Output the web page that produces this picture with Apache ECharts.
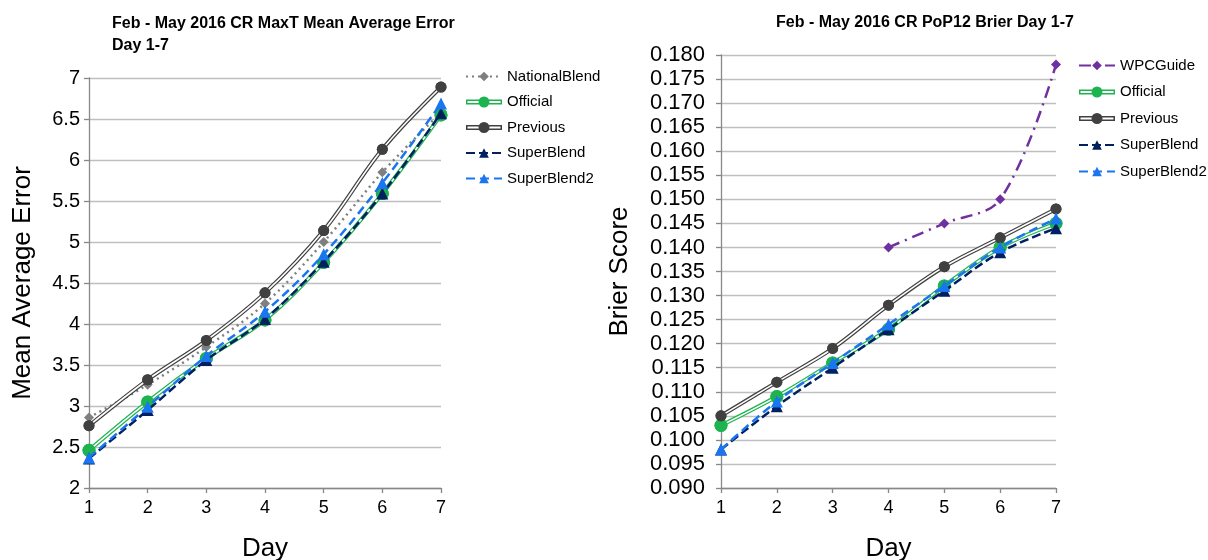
<!DOCTYPE html>
<html>
<head>
<meta charset="utf-8">
<script src="https://cdn.jsdelivr.net/npm/echarts@6/dist/echarts.min.js"></script>
<style>
  html, body { margin: 0; padding: 0; background: #fff; overflow: hidden; }
  #main { width: 1208px; height: 560px; }
</style>
</head>
<body>
<div id="main"></div>
<script>
var days = ['1', '2', '3', '4', '5', '6', '7'];

// MaxT mean average error
var maxtNationalBlend = [2.86, 3.26, 3.72, 4.25, 5.00, 5.85, 6.58];
var maxtOfficial = [2.46, 3.05, 3.58, 4.05, 4.75, 5.59, 6.55];
var maxtPrevious = [2.76, 3.32, 3.80, 4.38, 5.14, 6.13, 6.89];
var maxtSuperBlend = [2.36, 2.95, 3.56, 4.06, 4.76, 5.59, 6.57];
var maxtSuperBlend2 = [2.37, 2.99, 3.61, 4.15, 4.85, 5.72, 6.69];

// PoP12 brier score
var brierWPCGuide = [null, null, null, 0.140, 0.145, 0.150, 0.178];
var brierOfficial = [0.103, 0.109, 0.116, 0.123, 0.132, 0.140, 0.145];
var brierPrevious = [0.105, 0.112, 0.119, 0.128, 0.136, 0.142, 0.148];
var brierSuperBlend = [0.098, 0.107, 0.115, 0.123, 0.131, 0.139, 0.144];
var brierSuperBlend2 = [0.098, 0.108, 0.116, 0.124, 0.132, 0.140, 0.146];

var FONT = 'Liberation Sans, Arial, sans-serif';
var GREEN = '#1db450', DARK = '#404040', GRAY = '#7f7f7f', NAVY = '#002060', BLUE = '#1a75f0', PURPLE = '#7030a0';

// 双线图例图标 (外框减内框 + 圆点)
var doubleLineIcon = 'path://M0,3.5 L36,3.5 L36,8.5 L0,8.5 Z M1.5,5 L1.5,7 L34.5,7 L34.5,5 Z ' +
  'M12.5,6 A5.5,5.5 0 1 1 23.5,6 A5.5,5.5 0 1 1 12.5,6 Z';

var zCount = 2;
function nextZ() { return zCount++; }

function simpleLine(name, data, idx, color, type, width, symbol, size) {
  return {
    name: name, type: 'line', data: data, xAxisIndex: idx, yAxisIndex: idx,
    smooth: 0.35, z: nextZ(), color: color,
    symbol: symbol, symbolSize: size, showSymbol: true,
    lineStyle: { color: color, width: width, type: type },
    itemStyle: { color: color, borderWidth: 0 },
    emphasis: { disabled: true }
  };
}

// 双线：粗彩色线 + 白色中线 + 顶层标记
function doubleLine(name, data, idx, color, size) {
  return [
    {
      name: name, type: 'line', data: data, xAxisIndex: idx, yAxisIndex: idx,
      smooth: 0.35, z: nextZ(), color: color, symbol: 'circle', symbolSize: size,
      lineStyle: { color: color, width: 4 },
      itemStyle: { color: color, borderWidth: 0 },
      emphasis: { disabled: true }
    },
    {
      name: name + '_inner', type: 'line', data: data, xAxisIndex: idx, yAxisIndex: idx,
      smooth: 0.35, z: nextZ(), symbol: 'none', silent: true,
      lineStyle: { color: '#fff', width: 1.6 },
      emphasis: { disabled: true }
    },
    {
      name: name + '_marks', type: 'line', data: data, xAxisIndex: idx, yAxisIndex: idx,
      z: nextZ(), symbol: 'circle', symbolSize: size, silent: true,
      lineStyle: { width: 0, opacity: 0 },
      itemStyle: { color: color, borderWidth: 0 },
      emphasis: { disabled: true }
    }
  ];
}

var series = [].concat(
  simpleLine('NationalBlend', maxtNationalBlend, 0, GRAY, [2, 4], 2.5, 'diamond', 10),
  doubleLine('Official', maxtOfficial, 0, GREEN, 13),
  doubleLine('Previous', maxtPrevious, 0, DARK, 11),
  simpleLine('SuperBlend', maxtSuperBlend, 0, NAVY, [9, 4], 2.5, 'triangle', 12),
  simpleLine('SuperBlend2', maxtSuperBlend2, 0, BLUE, [9, 5], 2.5, 'triangle', 12),

  simpleLine('WPCGuide', brierWPCGuide, 1, PURPLE, [12, 6, 2, 6], 2.5, 'diamond', 10),
  doubleLine('Official', brierOfficial, 1, GREEN, 13),
  doubleLine('Previous', brierPrevious, 1, DARK, 11),
  simpleLine('SuperBlend', brierSuperBlend, 1, NAVY, [9, 4], 2.5, 'triangle', 12),
  simpleLine('SuperBlend2', brierSuperBlend2, 1, BLUE, [9, 5], 2.5, 'triangle', 12)
);

function xAxis(idx) {
  return {
    type: 'category', gridIndex: idx, data: days, boundaryGap: false,
    name: 'Day', nameLocation: 'middle', nameGap: 48,
    nameTextStyle: { fontFamily: FONT, fontSize: 26, color: '#000' },
    axisLine: { lineStyle: { color: '#888', width: 1.3 } },
    axisTick: { show: true, length: 5, lineStyle: { color: '#888', width: 1.3 } },
    axisLabel: { fontFamily: FONT, fontSize: 18, color: '#000', margin: 11 },
    splitLine: { show: false }
  };
}

function yAxis(idx, min, max, step, title, gap, labelSize, labelMargin, fmt) {
  return {
    type: 'value', gridIndex: idx, min: min, max: max, interval: step,
    name: title, nameLocation: 'middle', nameGap: gap,
    nameTextStyle: { fontFamily: FONT, fontSize: 26, color: '#000' },
    axisLine: { show: true, lineStyle: { color: '#888', width: 1.3 } },
    axisTick: { show: true, length: 5, lineStyle: { color: '#888', width: 1.3 } },
    axisLabel: { fontFamily: FONT, fontSize: labelSize, color: '#000', margin: labelMargin, formatter: fmt },
    splitLine: { lineStyle: { color: '#bfbfbf', width: 1.3 } }
  };
}

function legend(left, top, gap, names) {
  return {
    orient: 'vertical', left: left, top: top, itemWidth: 36, itemHeight: 12, itemGap: gap,
    selectedMode: false,
    textStyle: { fontFamily: FONT, fontSize: 15, color: '#000' },
    itemStyle: { borderWidth: 0 },
    data: names.map(function (n) {
      return (n === 'Official' || n === 'Previous') ? { name: n, icon: doubleLineIcon } : n;
    })
  };
}

var chart = echarts.init(document.getElementById('main'));
chart.setOption({
  animation: false,
  backgroundColor: '#fff',
  title: [
    {
      text: 'Feb - May 2016 CR MaxT Mean Average Error\nDay 1-7',
      left: 107, top: 8,
      textStyle: { fontFamily: FONT, fontSize: 16, fontWeight: 'bold', color: '#000', lineHeight: 22 }
    },
    {
      text: 'Feb - May 2016 CR PoP12 Brier Day 1-7',
      left: 920, top: 10, textAlign: 'center',
      textStyle: { fontFamily: FONT, fontSize: 16, fontWeight: 'bold', color: '#000' }
    }
  ],
  legend: [
    legend(460, 64, 10.5, ['NationalBlend', 'Official', 'Previous', 'SuperBlend', 'SuperBlend2']),
    legend(1073, 53, 11.5, ['WPCGuide', 'Official', 'Previous', 'SuperBlend', 'SuperBlend2'])
  ],
  grid: [
    { left: 89, top: 78, width: 352, height: 410, outerBoundsMode: 'none', containLabel: false },
    { left: 721, top: 55, width: 335, height: 433, outerBoundsMode: 'none', containLabel: false }
  ],
  xAxis: [xAxis(0), xAxis(1)],
  yAxis: [
    yAxis(0, 2, 7, 0.5, 'Mean Average Error', 53, 20, 9, function (v) { return String(+v.toFixed(1)); }),
    yAxis(1, 0.09, 0.18, 0.005, 'Brier Score', 88, 22, 16, function (v) { return v.toFixed(3); })
  ],
  series: series
});
</script>
</body>
</html>
